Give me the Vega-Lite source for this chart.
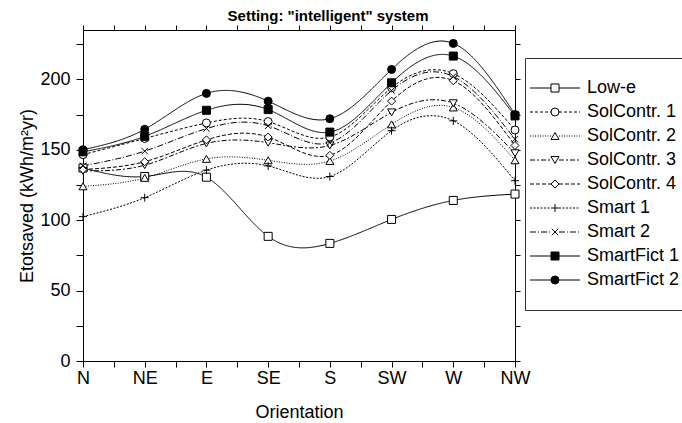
{
  "$schema": "https://vega.github.io/schema/vega-lite/v6.json",
  "width": 432,
  "height": 331,
  "autosize": {"type": "none"},
  "padding": {"left": 83, "top": 30, "right": 167, "bottom": 62},
  "background": "white",
  "config": {
    "view": {"stroke": null},
    "font": "Liberation Sans",
    "axis": {
      "grid": false,
      "domainColor": "black",
      "tickColor": "black",
      "labelColor": "black",
      "titleColor": "black",
      "labelFont": "Liberation Sans",
      "titleFont": "Liberation Sans",
      "labelFontSize": 18,
      "titleFontSize": 18,
      "titleFontWeight": "normal"
    },
    "legend": {
      "labelFont": "Liberation Sans",
      "labelFontSize": 18,
      "labelColor": "black"
    }
  },
  "title": {
    "text": "Setting: \"intelligent\" system",
    "font": "Liberation Sans",
    "fontSize": 15,
    "fontWeight": "bold",
    "color": "black",
    "anchor": "middle",
    "dx": 29,
    "offset": 1
  },
  "data": {
    "values": [
      {"series": "Low-e", "azimuth": 0, "saved": 137},
      {"series": "Low-e", "azimuth": 45, "saved": 131},
      {"series": "Low-e", "azimuth": 90, "saved": 130.5},
      {"series": "Low-e", "azimuth": 135, "saved": 88.5},
      {"series": "Low-e", "azimuth": 180, "saved": 83.5},
      {"series": "Low-e", "azimuth": 225, "saved": 100.5},
      {"series": "Low-e", "azimuth": 270, "saved": 114},
      {"series": "Low-e", "azimuth": 315, "saved": 118.5},
      {"series": "SolContr. 1", "azimuth": 0, "saved": 146.5},
      {"series": "SolContr. 1", "azimuth": 45, "saved": 158},
      {"series": "SolContr. 1", "azimuth": 90, "saved": 169},
      {"series": "SolContr. 1", "azimuth": 135, "saved": 170},
      {"series": "SolContr. 1", "azimuth": 180, "saved": 159},
      {"series": "SolContr. 1", "azimuth": 225, "saved": 194},
      {"series": "SolContr. 1", "azimuth": 270, "saved": 204},
      {"series": "SolContr. 1", "azimuth": 315, "saved": 164},
      {"series": "SolContr. 2", "azimuth": 0, "saved": 124},
      {"series": "SolContr. 2", "azimuth": 45, "saved": 130},
      {"series": "SolContr. 2", "azimuth": 90, "saved": 143.5},
      {"series": "SolContr. 2", "azimuth": 135, "saved": 142.5},
      {"series": "SolContr. 2", "azimuth": 180, "saved": 142},
      {"series": "SolContr. 2", "azimuth": 225, "saved": 168},
      {"series": "SolContr. 2", "azimuth": 270, "saved": 180},
      {"series": "SolContr. 2", "azimuth": 315, "saved": 142.5},
      {"series": "SolContr. 3", "azimuth": 0, "saved": 135},
      {"series": "SolContr. 3", "azimuth": 45, "saved": 139},
      {"series": "SolContr. 3", "azimuth": 90, "saved": 154.5},
      {"series": "SolContr. 3", "azimuth": 135, "saved": 155},
      {"series": "SolContr. 3", "azimuth": 180, "saved": 153},
      {"series": "SolContr. 3", "azimuth": 225, "saved": 176.5},
      {"series": "SolContr. 3", "azimuth": 270, "saved": 183},
      {"series": "SolContr. 3", "azimuth": 315, "saved": 147.5},
      {"series": "SolContr. 4", "azimuth": 0, "saved": 136},
      {"series": "SolContr. 4", "azimuth": 45, "saved": 141.5},
      {"series": "SolContr. 4", "azimuth": 90, "saved": 157},
      {"series": "SolContr. 4", "azimuth": 135, "saved": 159},
      {"series": "SolContr. 4", "azimuth": 180, "saved": 146},
      {"series": "SolContr. 4", "azimuth": 225, "saved": 184.5},
      {"series": "SolContr. 4", "azimuth": 270, "saved": 199},
      {"series": "SolContr. 4", "azimuth": 315, "saved": 153},
      {"series": "Smart 1", "azimuth": 0, "saved": 102.5},
      {"series": "Smart 1", "azimuth": 45, "saved": 116},
      {"series": "Smart 1", "azimuth": 90, "saved": 135.5},
      {"series": "Smart 1", "azimuth": 135, "saved": 138.5},
      {"series": "Smart 1", "azimuth": 180, "saved": 131},
      {"series": "Smart 1", "azimuth": 225, "saved": 163.5},
      {"series": "Smart 1", "azimuth": 270, "saved": 170.5},
      {"series": "Smart 1", "azimuth": 315, "saved": 128},
      {"series": "Smart 2", "azimuth": 0, "saved": 138.5},
      {"series": "Smart 2", "azimuth": 45, "saved": 149},
      {"series": "Smart 2", "azimuth": 90, "saved": 165},
      {"series": "Smart 2", "azimuth": 135, "saved": 167},
      {"series": "Smart 2", "azimuth": 180, "saved": 155},
      {"series": "Smart 2", "azimuth": 225, "saved": 192},
      {"series": "Smart 2", "azimuth": 270, "saved": 202},
      {"series": "Smart 2", "azimuth": 315, "saved": 157.5},
      {"series": "SmartFict 1", "azimuth": 0, "saved": 148.5},
      {"series": "SmartFict 1", "azimuth": 45, "saved": 159.5},
      {"series": "SmartFict 1", "azimuth": 90, "saved": 178},
      {"series": "SmartFict 1", "azimuth": 135, "saved": 178.5},
      {"series": "SmartFict 1", "azimuth": 180, "saved": 162.5},
      {"series": "SmartFict 1", "azimuth": 225, "saved": 197.5},
      {"series": "SmartFict 1", "azimuth": 270, "saved": 216.5},
      {"series": "SmartFict 1", "azimuth": 315, "saved": 174},
      {"series": "SmartFict 2", "azimuth": 0, "saved": 150},
      {"series": "SmartFict 2", "azimuth": 45, "saved": 164.5},
      {"series": "SmartFict 2", "azimuth": 90, "saved": 190},
      {"series": "SmartFict 2", "azimuth": 135, "saved": 184.5},
      {"series": "SmartFict 2", "azimuth": 180, "saved": 172},
      {"series": "SmartFict 2", "azimuth": 225, "saved": 207},
      {"series": "SmartFict 2", "azimuth": 270, "saved": 225.5},
      {"series": "SmartFict 2", "azimuth": 315, "saved": 175}
    ]
  },
  "layer": [
    {
      "mark": {"type": "line", "interpolate": "natural", "color": "black", "strokeWidth": 1},
      "encoding": {
        "x": {
          "field": "azimuth", "type": "quantitative",
          "scale": {"domain": [0, 315], "nice": false, "zero": false},
          "axis": {
            "orient": "bottom",
            "values": [0, 22.5, 45, 67.5, 90, 112.5, 135, 157.5, 180, 202.5, 225, 247.5, 270, 292.5, 315],
            "labelExpr": "datum.value % 45 === 0 ? ['N','NE','E','SE','S','SW','W','NW'][round(datum.value / 45)] : ''",
            "labelOverlap": false,
            "labelFlush": false,
            "labelBound": false,
            "title": "Orientation",
            "tickSize": 6,
            "labelPadding": 2,
            "titlePadding": 16,
            "encode": {"ticks": {"update": {"y2": {"signal": "datum.value % 45 === 0 ? 6 : 3"}}}}
          }
        },
        "y": {
          "field": "saved", "type": "quantitative",
          "scale": {"domain": [0, 235], "nice": false},
          "axis": {
            "orient": "left",
            "values": [0, 25, 50, 75, 100, 125, 150, 175, 200, 225],
            "labelExpr": "datum.value % 50 === 0 ? datum.label : ''",
            "labelOverlap": false,
            "tickSize": 7,
            "labelPadding": 6,
            "title": "Etotsaved (kWh/m²yr)",
            "titlePadding": 3,
            "encode": {"ticks": {"update": {"x2": {"signal": "datum.value % 50 === 0 ? -7 : -4"}}}}
          }
        },
        "strokeDash": {
          "field": "series", "type": "nominal",
          "sort": ["Low-e", "SolContr. 1", "SolContr. 2", "SolContr. 3", "SolContr. 4", "Smart 1", "Smart 2", "SmartFict 1", "SmartFict 2"],
          "scale": {"range": [[1, 0], [3, 2], [1, 1.5], [5, 2, 2, 2], [4, 2], [2, 1.5], [6, 2, 1, 2], [1, 0], [1, 0]]},
          "legend": {
            "orient": "none",
            "legendX": 442,
            "legendY": 28,
            "title": null,
            "symbolType": "M-6.25,0H-1M1,0H6.25",
            "symbolSize": 64,
            "symbolStrokeColor": "black",
            "symbolStrokeWidth": 1,
            "symbolFillColor": "transparent",
            "labelOffset": 23,
            "labelOpacity": 0,
            "padding": 21,
            "rowPadding": 6
          }
        }
      }
    },
    {
      "mark": {"type": "point", "filled": true, "strokeWidth": 1, "size": 64, "opacity": 1},
      "encoding": {
        "x": {
          "field": "azimuth", "type": "quantitative",
          "axis": {
            "orient": "top",
            "values": [0, 22.5, 45, 67.5, 90, 112.5, 135, 157.5, 180, 202.5, 225, 247.5, 270, 292.5, 315],
            "labels": false,
            "title": null,
            "tickSize": 5,
            "encode": {"ticks": {"update": {"y2": {"signal": "datum.value % 45 === 0 ? 5 : 3"}}}}
          }
        },
        "y": {
          "field": "saved", "type": "quantitative",
          "axis": {
            "orient": "right",
            "values": [0, 25, 50, 75, 100, 125, 150, 175, 200, 225],
            "labels": false,
            "title": null,
            "tickSize": 5,
            "encode": {"ticks": {"update": {"x2": {"signal": "datum.value % 50 === 0 ? -5 : -3"}}}}
          }
        },
        "shape": {
          "field": "series", "type": "nominal",
          "scale": {
            "domain": ["Low-e", "SolContr. 1", "SolContr. 2", "SolContr. 3", "SolContr. 4", "Smart 1", "Smart 2", "SmartFict 1", "SmartFict 2"],
            "range": ["square", "circle", "triangle-up", "triangle-down", "diamond", "M-1,0H1M0,-1V1", "M-0.8,-0.8L0.8,0.8M-0.8,0.8L0.8,-0.8", "square", "circle"]
          },
          "legend": {
            "orient": "none", "legendX": 442, "legendY": 28, "title": null,
            "symbolSize": 64, "symbolStrokeWidth": 1, "symbolFillColor": "white", "symbolOpacity": 1,
            "labelOffset": 23, "labelLimit": 200, "padding": 21, "rowPadding": 6, "strokeColor": "#333333"
          }
        },
        "stroke": {
          "field": "series", "type": "nominal",
          "scale": {
            "domain": ["Low-e", "SolContr. 1", "SolContr. 2", "SolContr. 3", "SolContr. 4", "Smart 1", "Smart 2", "SmartFict 1", "SmartFict 2"],
            "range": ["black", "black", "black", "black", "black", "black", "black", "black", "black"]
          },
          "legend": {
            "orient": "none", "legendX": 442, "legendY": 28, "title": null,
            "symbolSize": 64, "symbolStrokeWidth": 1, "symbolFillColor": "white", "symbolOpacity": 1,
            "labelOffset": 23, "labelLimit": 200, "padding": 21, "rowPadding": 6, "strokeColor": "#333333"
          }
        },
        "fill": {
          "field": "series", "type": "nominal",
          "scale": {
            "domain": ["Low-e", "SolContr. 1", "SolContr. 2", "SolContr. 3", "SolContr. 4", "Smart 1", "Smart 2", "SmartFict 1", "SmartFict 2"],
            "range": ["white", "white", "white", "white", "white", "white", "white", "black", "black"]
          },
          "legend": {
            "orient": "none", "legendX": 442, "legendY": 28, "title": null,
            "symbolSize": 64, "symbolStrokeWidth": 1, "symbolFillColor": "white", "symbolOpacity": 1,
            "labelOffset": 23, "labelLimit": 200, "padding": 21, "rowPadding": 6, "strokeColor": "#333333"
          }
        }
      }
    }
  ],
  "resolve": {"axis": {"x": "independent", "y": "independent"}}
}
